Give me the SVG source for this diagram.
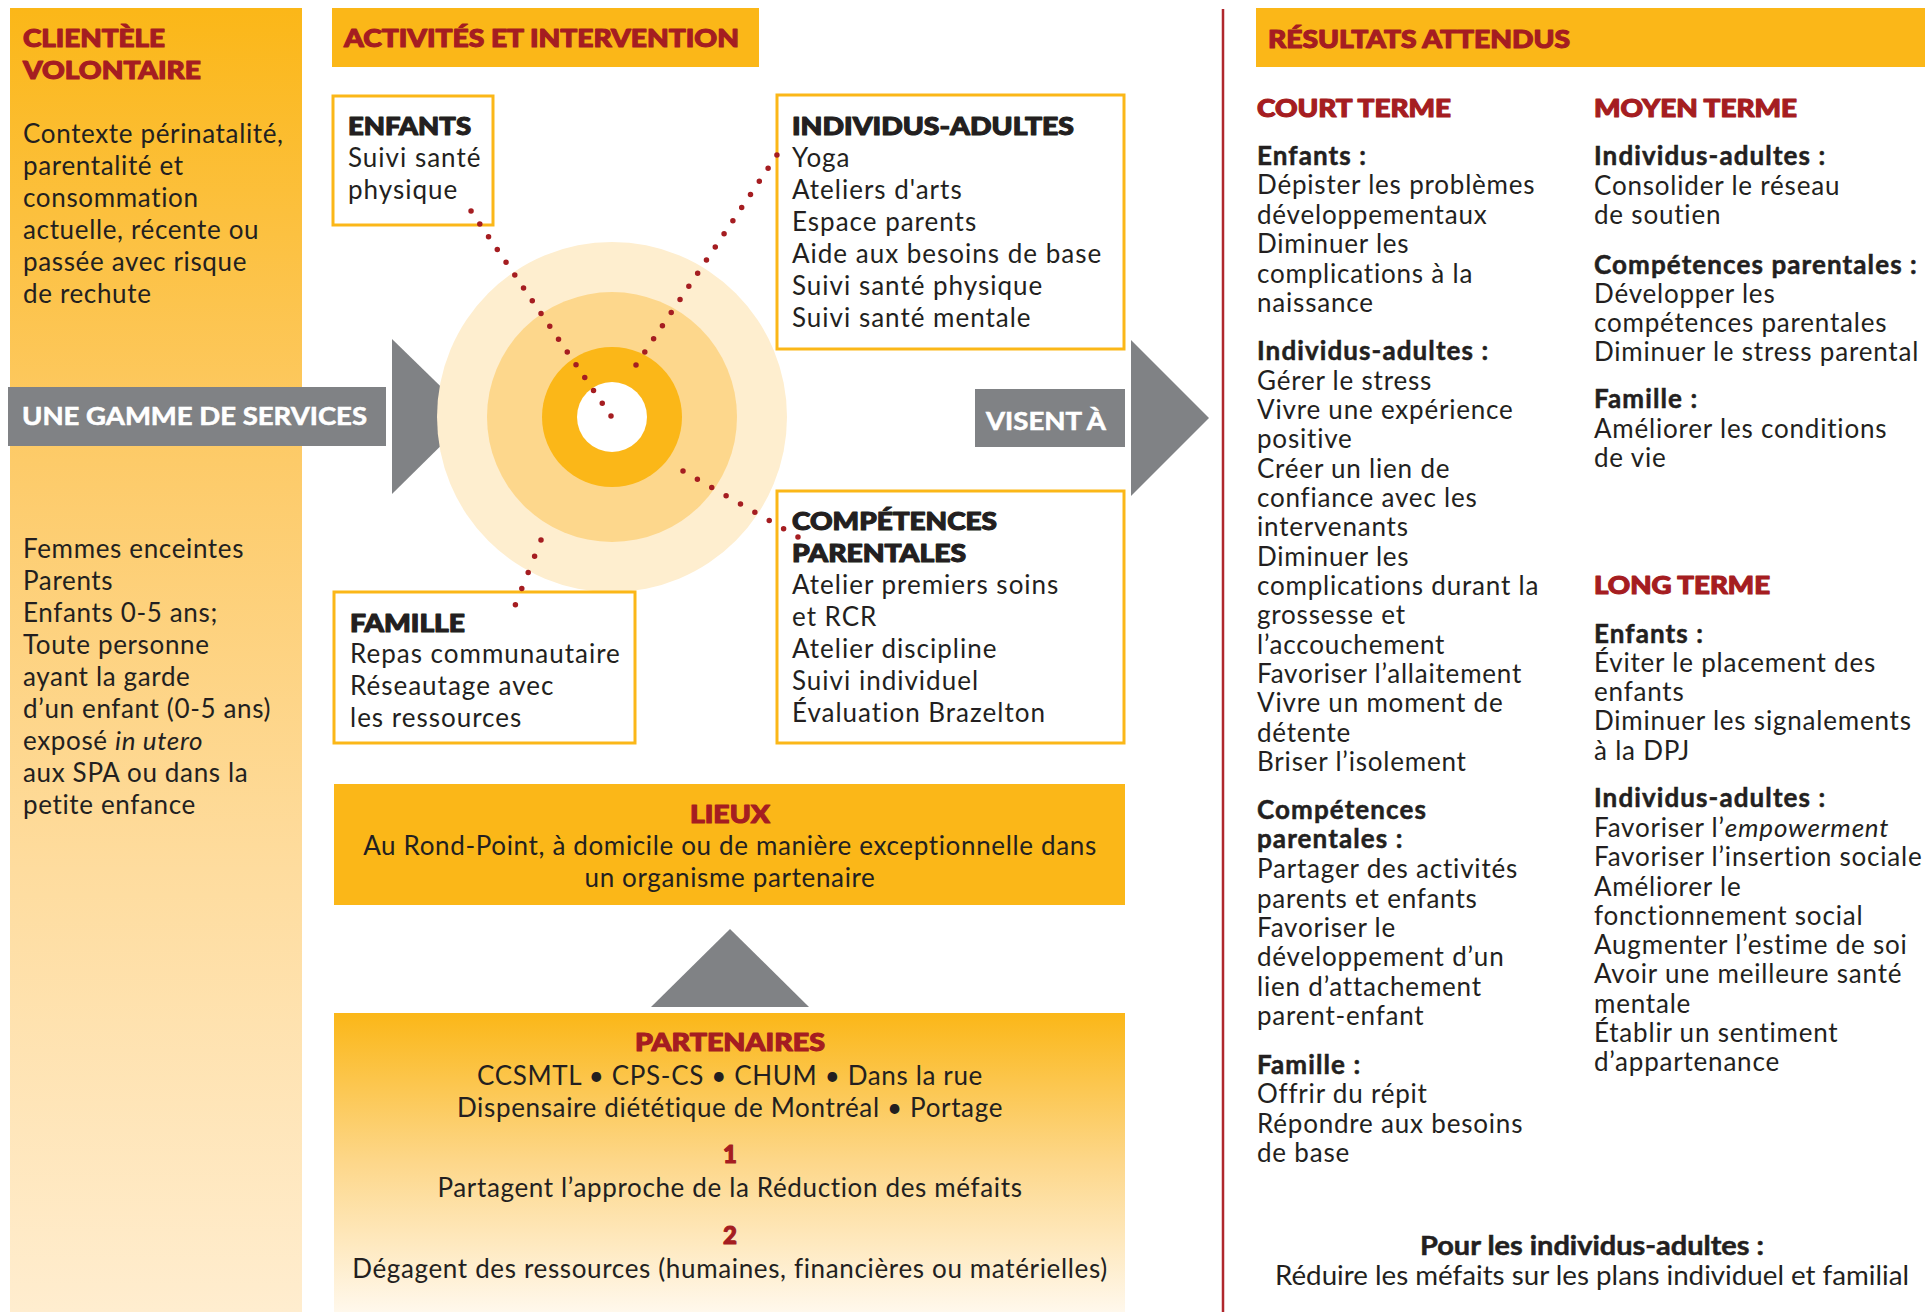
<svg xmlns="http://www.w3.org/2000/svg" width="1925" height="1312" viewBox="0 0 1925 1312">
<defs>
<linearGradient id="gLeft" x1="0" y1="0" x2="0" y2="1">
<stop offset="0" stop-color="#FBB718"/>
<stop offset="0.33" stop-color="#FDCA66"/>
<stop offset="0.66" stop-color="#FEDC9E"/>
<stop offset="1" stop-color="#FFEDCF"/>
</linearGradient>
<linearGradient id="gPart" x1="0" y1="0" x2="0" y2="1">
<stop offset="0" stop-color="#FBB718"/>
<stop offset="0.5" stop-color="#FDD78A"/>
<stop offset="1" stop-color="#FFF8EC"/>
</linearGradient>
</defs>
<style>
.h{font-family:Lato,"Liberation Sans",sans-serif;font-weight:900;font-size:24px;fill:#A51D21;stroke:#A51D21;stroke-width:1.1px;stroke-linejoin:round}
.hk{font-family:Lato,"Liberation Sans",sans-serif;font-weight:900;font-size:24px;fill:#231F20;stroke:#231F20;stroke-width:1.1px;stroke-linejoin:round}
.t{font-family:Lato,"Liberation Sans",sans-serif;font-size:26px;fill:#231F20}
.l{letter-spacing:0.65px}
.x{letter-spacing:1px}
.r{letter-spacing:0.8px}
.b{font-family:Lato,"Liberation Sans",sans-serif;font-weight:700;font-size:26px;fill:#231F20;stroke:#231F20;stroke-width:0.5px;letter-spacing:1.1px}
.w{font-family:Lato,"Liberation Sans",sans-serif;font-weight:700;font-size:25px;fill:#FFFFFF;stroke:#FFFFFF;stroke-width:0.6px}
.c{text-anchor:middle}
.box{fill:#FFFFFF;stroke:#FBB718;stroke-width:3}
.gray{fill:#808285}
.dots{fill:none;stroke:#A51D21;stroke-width:5.5;stroke-linecap:round}
</style>
<rect width="1925" height="1312" fill="#FFFFFF"/>

<g id="clientele">
<rect x="10" y="8" width="292" height="1304" fill="url(#gLeft)"/>
<text class="h" x="23" y="47" textLength="142" lengthAdjust="spacingAndGlyphs">CLIENTÈLE</text>
<text class="h" x="23" y="79" textLength="178" lengthAdjust="spacingAndGlyphs">VOLONTAIRE</text>
<text class="t l" x="23" y="143">Contexte périnatalité,</text>
<text class="t l" x="23" y="175">parentalité et</text>
<text class="t l" x="23" y="207">consommation</text>
<text class="t l" x="23" y="239">actuelle, récente ou</text>
<text class="t l" x="23" y="271">passée avec risque</text>
<text class="t l" x="23" y="303">de rechute</text>
<text class="t l" x="23" y="558">Femmes enceintes</text>
<text class="t l" x="23" y="590">Parents</text>
<text class="t l" x="23" y="622">Enfants 0-5 ans;</text>
<text class="t l" x="23" y="654">Toute personne</text>
<text class="t l" x="23" y="686">ayant la garde</text>
<text class="t l" x="23" y="718">d’un enfant (0-5 ans)</text>
<text class="t l" x="23" y="750">exposé <tspan font-style="italic">in utero</tspan></text>
<text class="t l" x="23" y="782">aux SPA ou dans la</text>
<text class="t l" x="23" y="814">petite enfance</text>
</g>

<g id="gamme">
<rect class="gray" x="8" y="387" width="378" height="59"/>
<text class="w" x="22" y="425" textLength="345" lengthAdjust="spacingAndGlyphs">UNE GAMME DE SERVICES</text>
<polygon class="gray" points="392,339 471,416 392,494"/>
</g>

<g id="activites-titre">
<rect x="332" y="8" width="427" height="59" fill="#FBB718"/>
<text class="h" x="344" y="47" textLength="395" lengthAdjust="spacingAndGlyphs">ACTIVITÉS ET INTERVENTION</text>
</g>

<g id="cible">
<circle cx="612" cy="417" r="175" fill="#FEEECF"/>
<circle cx="612" cy="417" r="125" fill="#FDD78C"/>
<circle cx="612" cy="417" r="70" fill="#FBB718"/>
<circle cx="612" cy="417" r="35" fill="#FFFFFF"/>
</g>

<g id="enfants">
<rect class="box" x="333" y="96" width="160" height="129"/>
<text class="hk" x="348" y="135" textLength="123" lengthAdjust="spacingAndGlyphs">ENFANTS</text>
<text class="t x" x="348" y="167">Suivi santé</text>
<text class="t x" x="348" y="199">physique</text>
</g>

<g id="individus">
<rect class="box" x="777" y="95" width="347" height="254"/>
<text class="hk" x="792" y="135" textLength="282" lengthAdjust="spacingAndGlyphs">INDIVIDUS-ADULTES</text>
<text class="t x" x="792" y="167">Yoga</text>
<text class="t x" x="792" y="199">Ateliers d'arts</text>
<text class="t x" x="792" y="231">Espace parents</text>
<text class="t x" x="792" y="263">Aide aux besoins de base</text>
<text class="t x" x="792" y="295">Suivi santé physique</text>
<text class="t x" x="792" y="327">Suivi santé mentale</text>
</g>

<g id="famille">
<rect class="box" x="334" y="592" width="301" height="151"/>
<text class="hk" x="350" y="632" textLength="115" lengthAdjust="spacingAndGlyphs">FAMILLE</text>
<text class="t x" x="350" y="663">Repas communautaire</text>
<text class="t x" x="350" y="695">Réseautage avec</text>
<text class="t x" x="350" y="727">les ressources</text>
</g>

<g id="competences">
<rect class="box" x="777" y="491" width="347" height="252"/>
<text class="hk" x="792" y="530" textLength="205" lengthAdjust="spacingAndGlyphs">COMPÉTENCES</text>
<text class="hk" x="792" y="562" textLength="174" lengthAdjust="spacingAndGlyphs">PARENTALES</text>
<text class="t x" x="792" y="594">Atelier premiers soins</text>
<text class="t x" x="792" y="626">et RCR</text>
<text class="t x" x="792" y="658">Atelier discipline</text>
<text class="t x" x="792" y="690">Suivi individuel</text>
<text class="t x" x="792" y="722">Évaluation Brazelton</text>
</g>

<g id="connecteurs">
<line class="dots" x1="611" y1="416" x2="471" y2="211" stroke-dasharray="0 15.51"/>
<line class="dots" x1="636" y1="365" x2="777" y2="155" stroke-dasharray="0 15.8"/>
<line class="dots" x1="683" y1="471" x2="798" y2="537" stroke-dasharray="0 16.57"/>
<line class="dots" x1="541" y1="540" x2="509" y2="621" stroke-dasharray="0 17.42"/>
</g>

<g id="lieux">
<rect x="334" y="784" width="791" height="121" fill="#FBB718"/>
<text class="h c" x="730" y="823" textLength="80" lengthAdjust="spacingAndGlyphs">LIEUX</text>
<text class="t c l" x="730" y="855">Au Rond-Point, à domicile ou de manière exceptionnelle dans</text>
<text class="t c l" x="730" y="887">un organisme partenaire</text>
</g>

<g id="fleche-haut">
<polygon class="gray" points="730,929 809,1007 651,1007"/>
</g>

<g id="partenaires">
<rect x="334" y="1013" width="791" height="299" fill="url(#gPart)"/>
<text class="h c" x="730" y="1051" textLength="190" lengthAdjust="spacingAndGlyphs">PARTENAIRES</text>
<text class="t c l" x="730" y="1085">CCSMTL • CPS-CS • CHUM • Dans la rue</text>
<text class="t c l" x="730" y="1117">Dispensaire diététique de Montréal • Portage</text>
<text class="h c" x="730" y="1163">1</text>
<text class="t c l" x="730" y="1197">Partagent l’approche de la Réduction des méfaits</text>
<text class="h c" x="730" y="1244">2</text>
<text class="t c l" x="730" y="1278">Dégagent des ressources (humaines, financières ou matérielles)</text>
</g>

<g id="visent">
<rect class="gray" x="975" y="389" width="150" height="58"/>
<text class="w" x="986" y="430" textLength="120" lengthAdjust="spacingAndGlyphs">VISENT À</text>
<polygon class="gray" points="1131,340 1209,418 1131,496"/>
</g>

<line x1="1223" y1="9" x2="1223" y2="1312" stroke="#B0272D" stroke-width="2.5"/>

<g id="resultats">
<rect x="1256" y="8" width="669" height="59" fill="#FBB718"/>
<text class="h" x="1268" y="48" textLength="302" lengthAdjust="spacingAndGlyphs">RÉSULTATS ATTENDUS</text>
</g>

<g id="court-terme">
<text class="h" x="1257" y="117" textLength="194" lengthAdjust="spacingAndGlyphs">COURT TERME</text>
<text class="b" x="1257" y="165">Enfants :</text>
<text class="t r" x="1257" y="194">Dépister les problèmes</text>
<text class="t r" x="1257" y="224">développementaux</text>
<text class="t r" x="1257" y="253">Diminuer les</text>
<text class="t r" x="1257" y="283">complications à la</text>
<text class="t r" x="1257" y="312">naissance</text>
<text class="b" x="1257" y="360">Individus-adultes :</text>
<text class="t r" x="1257" y="390">Gérer le stress</text>
<text class="t r" x="1257" y="419">Vivre une expérience</text>
<text class="t r" x="1257" y="448">positive</text>
<text class="t r" x="1257" y="478">Créer un lien de</text>
<text class="t r" x="1257" y="507">confiance avec les</text>
<text class="t r" x="1257" y="536">intervenants</text>
<text class="t r" x="1257" y="566">Diminuer les</text>
<text class="t r" x="1257" y="595">complications durant la</text>
<text class="t r" x="1257" y="624">grossesse et</text>
<text class="t r" x="1257" y="654">l’accouchement</text>
<text class="t r" x="1257" y="683">Favoriser l’allaitement</text>
<text class="t r" x="1257" y="712">Vivre un moment de</text>
<text class="t r" x="1257" y="742">détente</text>
<text class="t r" x="1257" y="771">Briser l’isolement</text>
<text class="b" x="1257" y="819">Compétences</text>
<text class="b" x="1257" y="848">parentales :</text>
<text class="t r" x="1257" y="878">Partager des activités</text>
<text class="t r" x="1257" y="908">parents et enfants</text>
<text class="t r" x="1257" y="937">Favoriser le</text>
<text class="t r" x="1257" y="966">développement d’un</text>
<text class="t r" x="1257" y="996">lien d’attachement</text>
<text class="t r" x="1257" y="1025">parent-enfant</text>
<text class="b" x="1257" y="1074">Famille :</text>
<text class="t r" x="1257" y="1103">Offrir du répit</text>
<text class="t r" x="1257" y="1133">Répondre aux besoins</text>
<text class="t r" x="1257" y="1162">de base</text>
</g>

<g id="moyen-terme">
<text class="h" x="1594" y="117" textLength="203" lengthAdjust="spacingAndGlyphs">MOYEN TERME</text>
<text class="b" x="1594" y="165">Individus-adultes :</text>
<text class="t r" x="1594" y="195">Consolider le réseau</text>
<text class="t r" x="1594" y="224">de soutien</text>
<text class="b" x="1594" y="274">Compétences parentales :</text>
<text class="t r" x="1594" y="303">Développer les</text>
<text class="t r" x="1594" y="332">compétences parentales</text>
<text class="t r" x="1594" y="361">Diminuer le stress parental</text>
<text class="b" x="1594" y="408">Famille :</text>
<text class="t r" x="1594" y="438">Améliorer les conditions</text>
<text class="t r" x="1594" y="467">de vie</text>
</g>

<g id="long-terme">
<text class="h" x="1594" y="594" textLength="176" lengthAdjust="spacingAndGlyphs">LONG TERME</text>
<text class="b" x="1594" y="643">Enfants :</text>
<text class="t r" x="1594" y="672">Éviter le placement des</text>
<text class="t r" x="1594" y="701">enfants</text>
<text class="t r" x="1594" y="730">Diminuer les signalements</text>
<text class="t r" x="1594" y="760">à la DPJ</text>
<text class="b" x="1594" y="807">Individus-adultes :</text>
<text class="t r" x="1594" y="837">Favoriser l’<tspan font-style="italic">empowerment</tspan></text>
<text class="t r" x="1594" y="866">Favoriser l’insertion sociale</text>
<text class="t r" x="1594" y="896">Améliorer le</text>
<text class="t r" x="1594" y="925">fonctionnement social</text>
<text class="t r" x="1594" y="954">Augmenter l’estime de soi</text>
<text class="t r" x="1594" y="983">Avoir une meilleure santé</text>
<text class="t r" x="1594" y="1013">mentale</text>
<text class="t r" x="1594" y="1042">Établir un sentiment</text>
<text class="t r" x="1594" y="1071">d’appartenance</text>
</g>

<g id="pour-adultes">
<text class="b c" x="1592" y="1255" style="letter-spacing:0" textLength="344" lengthAdjust="spacingAndGlyphs">Pour les individus-adultes :</text>
<text class="t c" x="1592" y="1285" textLength="634" lengthAdjust="spacingAndGlyphs">Réduire les méfaits sur les plans individuel et familial</text>
</g>
</svg>
